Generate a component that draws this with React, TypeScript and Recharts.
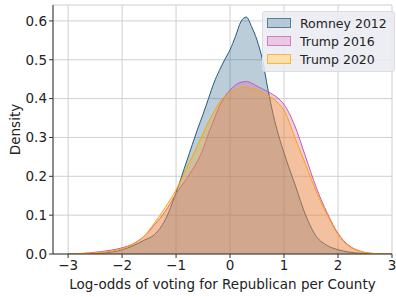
import React from "react";
import {
  ComposedChart,
  Area,
  XAxis,
  YAxis,
  CartesianGrid,
  Label,
} from "recharts";

// log-odds grid (x) and density
const logOdds = [
  -3.0, -2.8, -2.6, -2.4, -2.2, -2.0, -1.8, -1.6, -1.4, -1.2, -1.0, -0.8,
  -0.6, -0.5, -0.4, -0.3, -0.2, -0.1, 0.0, 0.1, 0.2, 0.3, 0.4, 0.5, 0.6, 0.7, 0.8, 0.9, 1.0,
  1.2, 1.4, 1.6, 1.8, 2.0, 2.2, 2.4, 2.6, 2.8, 3.0,
];
const romney2012 = [
  0, 0, 0.001, 0.002, 0.005, 0.011, 0.021, 0.035, 0.05, 0.088, 0.158, 0.24,
  0.322, 0.36, 0.4, 0.44, 0.472, 0.5, 0.526, 0.56, 0.598, 0.61, 0.585, 0.55, 0.5, 0.425, 0.358, 0.305, 0.26,
  0.18, 0.1, 0.045, 0.022, 0.011, 0.005, 0.002, 0.001, 0, 0,
];
const trump2016 = [
  0.0005, 0.001, 0.003, 0.006, 0.01, 0.016, 0.026, 0.045, 0.075, 0.11, 0.155, 0.195,
  0.24, 0.27, 0.31, 0.345, 0.38, 0.405, 0.422, 0.435, 0.442, 0.444, 0.44, 0.432, 0.425, 0.418, 0.41, 0.4, 0.385,
  0.33, 0.25, 0.17, 0.105, 0.053, 0.022, 0.008, 0.002, 0.0005, 0,
];
const trump2020 = [
  0, 0.001, 0.002, 0.004, 0.007, 0.013, 0.025, 0.045, 0.08, 0.12, 0.165, 0.222,
  0.28, 0.31, 0.34, 0.365, 0.39, 0.405, 0.415, 0.423, 0.428, 0.429, 0.426, 0.421, 0.415, 0.408, 0.4, 0.387, 0.37,
  0.3, 0.23, 0.16, 0.1, 0.05, 0.02, 0.007, 0.002, 0.0005, 0,
];

const xTicks = [-3, -2, -1, 0, 1, 2, 3];
const yTicks = [0, 0.1, 0.2, 0.3, 0.4, 0.5, 0.6];

const SERIES = [
  { key: "romney", name: "Romney 2012", color: "#1f5a80" },
  { key: "t2016", name: "Trump 2016", color: "#c75aaa" },
  { key: "t2020", name: "Trump 2020", color: "#ffa500" },
];

const data = logOdds.map((x, i) => ({
  x,
  romney: romney2012[i],
  t2016: trump2016[i],
  t2020: trump2020[i],
}));

const FONT = "DejaVu Sans, sans-serif";

function KdeLegend() {
  return (
    <div
      style={{
        position: "absolute",
        left: 262,
        top: 11,
        background: "rgba(234,234,242,0.85)",
        border: "1px solid #dcdce4",
        borderRadius: 3,
        padding: "2px 7px 3px 4px",
        fontFamily: FONT,
        fontSize: 12.5,
        color: "#222",
      }}
    >
      {SERIES.map((s) => (
        <div key={s.key} style={{ display: "flex", alignItems: "center", height: 18 }}>
          <span
            style={{
              width: 22,
              height: 8,
              marginRight: 9,
              border: `1.5px solid ${s.color}`,
              background: s.color,
              opacity: 0.75,
            }}
          >
            <span style={{ display: "block", width: "100%", height: "100%", background: "rgba(255,255,255,0.6)" }} />
          </span>
          <span>{s.name}</span>
        </div>
      ))}
    </div>
  );
}

export default function App() {
  const tickStyle = { fontFamily: FONT, fontSize: 13.5, fill: "#222" };
  return (
    <div style={{ position: "absolute", left: 0, top: 0, width: 396, height: 297 }}>
      <ComposedChart width={396} height={297} data={data} margin={{ top: 5, right: 4, left: 0, bottom: 0 }}>
        <CartesianGrid stroke="#cfcfcf" strokeWidth={1} />
        <XAxis
          dataKey="x"
          type="number"
          domain={[-3.28, 3.0]}
          ticks={xTicks}
          allowDataOverflow
          height={43}
          stroke="#333"
          tick={tickStyle}
          tickSize={4}
          tickFormatter={(v: number) => (v < 0 ? `\u2212${Math.abs(v)}` : `${v}`)}
        >
          <Label
            value="Log-odds of voting for Republican per County"
            position="insideBottom"
            offset={8}
            style={{ fontFamily: FONT, fontSize: 13.5, fill: "#222" }}
          />
        </XAxis>
        <XAxis xAxisId="top" orientation="top" type="number" domain={[-3.28, 3.0]} height={0} tick={false} tickLine={false} stroke="#333" />
        <YAxis
          type="number"
          domain={[0, 0.641]}
          ticks={yTicks}
          allowDataOverflow
          width={53}
          stroke="#333"
          tick={tickStyle}
          tickSize={4}
          tickFormatter={(v: number) => v.toFixed(1)}
        >
          <Label
            value="Density"
            angle={-90}
            position="insideLeft"
            offset={15}
            style={{ fontFamily: FONT, fontSize: 13.5, fill: "#222", textAnchor: "middle" }}
          />
        </YAxis>
        <YAxis yAxisId="right" orientation="right" width={0} tick={false} tickLine={false} stroke="#333" />
        {SERIES.map((s) => (
          <Area
            key={s.key}
            dataKey={s.key}
            name={s.name}
            type="monotone"
            stroke={s.color}
            strokeWidth={1}
            fill={s.color}
            fillOpacity={0.3}
            isAnimationActive={false}
            dot={false}
            activeDot={false}
          />
        ))}
      </ComposedChart>
      <KdeLegend />
    </div>
  );
}
